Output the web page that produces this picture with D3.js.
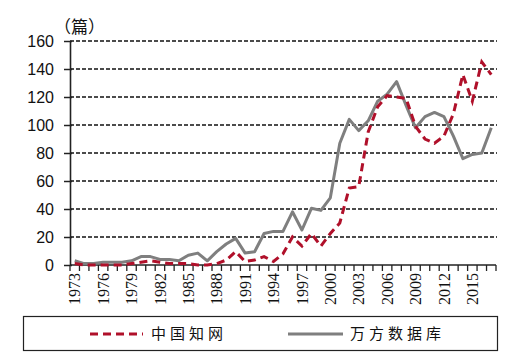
<!DOCTYPE html>
<html><head><meta charset="utf-8">
<script src="https://cdn.jsdelivr.net/npm/d3@7"></script>
<style>body{margin:0;background:#fff}svg{display:block}</style>
</head><body><svg id="c" width="520" height="359"></svg>
<script>
const years = d3.range(1973, 2018);
const cnki = [1,0,0,0,0,0,1,2,3,2,1,1,1,0,0,1,3.5,9.5,2.5,3.5,6,2.5,8,20,13.5,22.5,13.5,22.5,30,55,56,95,113,121,120,119,99,90,87,92,108,136,117,145,136];
const wanfang = [3,1,1,2,2,2,3,6,6,4,4,3,7,8.5,3,9.5,15,19,8.5,9.5,22.5,24,24,38,25,40.5,39,48,87,104,96,103,117,122,131,114,98,106,109,106,92,76,79,80,98];
const yTicks = [0,20,40,60,80,100,120,140,160];
const labelYears = years.filter(y => (y - 1973) % 3 === 0 && y <= 2015);
const seriesNames = ["中国知网", "万方数据库"];
const unit = "（篇）";

const svg = d3.select("#c");
const x = d3.scaleBand().domain(years).range([70, 496]).padding(0);
const y = d3.scaleLinear().domain([0,160]).range([265, 41]);
const cx = d => x(d) + x.bandwidth()/2;

// gridlines
svg.append("g").selectAll("line").data(yTicks.filter(t=>t>0)).join("line")
  .attr("x1",70).attr("x2",497).attr("y1",d=>y(d)).attr("y2",d=>y(d))
  .attr("stroke","#111").attr("stroke-width",1.4).attr("stroke-dasharray","4,2");

// y axis
const ya = svg.append("g").attr("transform","translate(70,0)")
  .call(d3.axisLeft(y).tickValues(yTicks).tickSize(6).tickPadding(10).tickSizeOuter(0));
ya.select(".domain").attr("stroke","#222").attr("stroke-width",1.6);
ya.selectAll(".tick line").attr("stroke","#222").attr("stroke-width",1.5).attr("x2",-6).attr("x1",2);
ya.selectAll("text").attr("font-family","Liberation Sans, Arial, sans-serif").attr("font-size",16).attr("fill","#111");

// x axis
svg.append("line").attr("x1",70).attr("x2",496).attr("y1",265).attr("y2",265)
  .attr("stroke","#222").attr("stroke-width",1.6);
const bounds = years.map(d=>x(d)).concat([x(years[years.length-1])+x.bandwidth()]);
svg.append("g").selectAll("line").data(bounds).join("line")
  .attr("x1",d=>d).attr("x2",d=>d).attr("y1",265).attr("y2",271)
  .attr("stroke","#222").attr("stroke-width",1.3);
svg.append("g").selectAll("text").data(labelYears).join("text")
  .attr("transform",d=>`translate(${cx(d)},273) rotate(-90)`)
  .attr("text-anchor","end").attr("dy","0.35em")
  .attr("font-family","Liberation Serif, Times New Roman, serif").attr("font-size",16).attr("fill","#111")
  .text(d=>d);

// lines
const line = d3.line().x((d,i)=>cx(years[i])).y(d=>y(d));
svg.append("path").datum(wanfang).attr("d",line).attr("fill","none")
  .attr("stroke","#7f7f7f").attr("stroke-width",3).attr("stroke-linejoin","round");
svg.append("path").datum(cnki).attr("d",line).attr("fill","none")
  .attr("stroke","#b0102a").attr("stroke-width",3).attr("stroke-dasharray","8,5");

// unit label
svg.append("text").attr("x",54).attr("y",33).attr("font-family","Noto Sans CJK SC, sans-serif")
  .attr("font-size",17).attr("fill","#111").text(unit);

// legend
svg.append("rect").attr("x",23.5).attr("y",316.5).attr("width",474).attr("height",34)
  .attr("fill","none").attr("stroke","#222").attr("stroke-width",1.2);
svg.append("line").attr("x1",90).attr("x2",143).attr("y1",334).attr("y2",334)
  .attr("stroke","#b0102a").attr("stroke-width",3).attr("stroke-dasharray","8,5");
svg.append("line").attr("x1",288).attr("x2",343).attr("y1",334).attr("y2",334)
  .attr("stroke","#7f7f7f").attr("stroke-width",3);
svg.append("text").attr("x",151).attr("y",334).attr("dy","0.35em").attr("letter-spacing",4)
  .attr("font-family","Noto Sans CJK SC, sans-serif").attr("font-size",15).attr("fill","#111").text(seriesNames[0]);
svg.append("text").attr("x",350).attr("y",334).attr("dy","0.35em").attr("letter-spacing",4)
  .attr("font-family","Noto Sans CJK SC, sans-serif").attr("font-size",15).attr("fill","#111").text(seriesNames[1]);
</script></body></html>
